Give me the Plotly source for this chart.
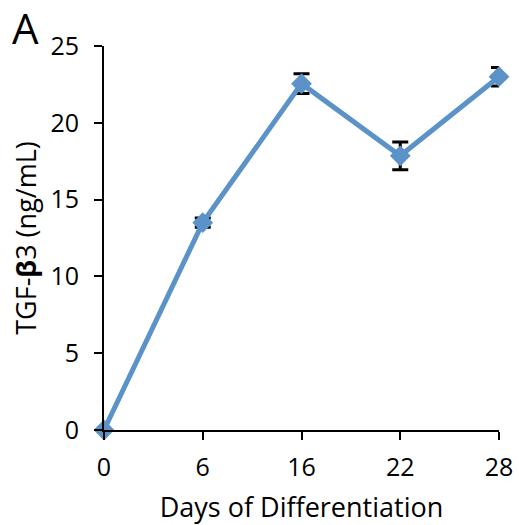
import plotly.graph_objects as go

days = ["0", "6", "16", "22", "28"]
tgf_b3 = [0, 13.5, 22.55, 17.85, 23.0]
err = [0, 0.3, 0.65, 0.9, 0.6]

FONT = "Open Sans"
fig = go.Figure()
fig.add_trace(go.Scatter(
    x=list(range(len(days))), y=tgf_b3,
    mode="lines+markers",
    line=dict(color="#5B93C9", width=5),
    marker=dict(symbol="diamond", size=16, color="#5B93C9"),
    error_y=dict(type="data", array=err, visible=True, color="black", thickness=3, width=8),
    cliponaxis=False,
))
fig.update_layout(
    width=519, height=525,
    paper_bgcolor="white", plot_bgcolor="white",
    margin=dict(l=104, r=20, t=46, b=95),
    showlegend=False,
    font=dict(family=FONT, size=25, color="black"),
    xaxis=dict(
        range=[0, 4], tickmode="array", tickvals=list(range(len(days))), ticktext=days,
        showline=True, linecolor="black", linewidth=2, ticks="outside", ticklen=8, tickwidth=2,
        tickcolor="black", showgrid=False, zeroline=False, tickfont=dict(size=25),
        ticklabelstandoff=6, automargin=False,
        title=dict(text="Days of Differentiation", font=dict(size=27), standoff=16),
    ),
    yaxis=dict(
        range=[0, 25], tickvals=[0, 5, 10, 15, 20, 25],
        showline=True, linecolor="black", linewidth=2, ticks="outside", ticklen=8, tickwidth=2,
        tickcolor="black", showgrid=False, zeroline=False, tickfont=dict(size=25),
        ticklabelstandoff=10, automargin=False,
        title=dict(text="TGF-<b>β</b>3 (ng/mL)", font=dict(size=27), standoff=6),
    ),
)
fig.add_annotation(text="A", x=-0.237, y=1.128, xref="paper", yref="paper", showarrow=False,
                   font=dict(size=42, family=FONT), xanchor="left", yanchor="top")
fig.write_html("out.html", config={"displayModeBar": False})
with open("out.html", encoding="utf-8") as f:
    html = f.read()
html = html.replace("<head>", "<head><style>html,body{margin:0;padding:0;overflow:hidden;}</style>", 1)
with open("out.html", "w", encoding="utf-8") as f:
    f.write(html)
